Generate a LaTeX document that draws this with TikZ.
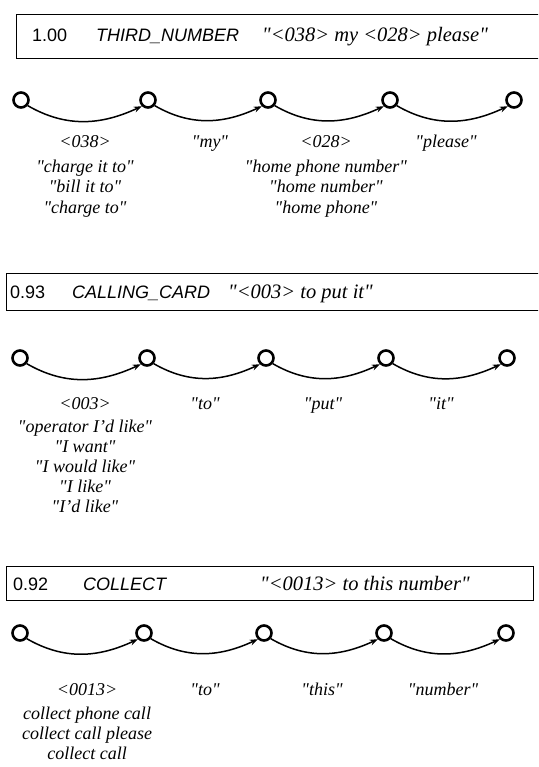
\documentclass[tikz,border=0pt]{standalone}
\usepackage{fontspec}
\setmainfont{Liberation Serif}
\setsansfont{Liberation Sans}
\usetikzlibrary{arrows.meta}
\newcommand{\q}{\textquotedbl}
\tikzset{
  st/.style={circle,draw,line width=2.6pt,minimum size=15pt,inner sep=0pt},
  arc/.style={line width=1.5pt,-{Stealth[length=8pt,width=6pt]}},
  boxline/.style={line width=0.9pt},
  hdr/.style={font=\sffamily\fontsize{18}{20}\selectfont,anchor=base west,inner sep=0pt},
  hdri/.style={font=\sffamily\itshape\fontsize{18}{20}\selectfont,anchor=base west,inner sep=0pt},
  hdrq/.style={font=\itshape\fontsize{20.5}{22}\selectfont,anchor=base west,inner sep=0pt},
  lab/.style={font=\itshape\fontsize{18}{20}\selectfont,anchor=base,inner sep=0pt},
}
\begin{document}
\begin{tikzpicture}[x=1pt,y=-1pt]
\useasboundingbox (0,0) rectangle (538,767);
\clip (0,0) rectangle (538,767);
% ---------- Row 1 ----------
\draw[boxline] (560,14) -- (16,14) -- (16,58) -- (560,58);
\node[hdr]  (h1a) at (32,42)  {1.00};
\node[hdri] (h1b) at (96,42)  {THIRD\_NUMBER};
\node[hdrq] (h1c) at (262,42) {\q<038> my <028> please\q};
\foreach \i/\x in {1/21,2/148,3/268,4/390,5/514}{
  \node[st] (a\i) at (\x,100) {};
}
\foreach \i/\j in {1/2,2/3,3/4,4/5}{
  \draw[arc] (a\i.-40) to[out=-30,in=-155] (a\j.-135);
}
\node[lab] (l1a) at (85,148) {<038>};
\node[lab] (l1b) at (210,148) {\q my\q};
\node[lab] (l1c) at (326,148) {<028>};
\node[lab] (l1d) at (446,148) {\q please\q};
\node[lab] (l1e) at (85,173) {\q charge it to\q};
\node[lab] (l1f) at (85,193) {\q bill it to\q};
\node[lab] (l1g) at (85,213) {\q charge to\q};
\node[lab] (l1h) at (326,173) {\q home phone number\q};
\node[lab] (l1i) at (326,193) {\q home number\q};
\node[lab] (l1j) at (326,213) {\q home phone\q};
% ---------- Row 2 ----------
\draw[boxline] (560,273) -- (6,273) -- (6,310) -- (560,310);
\node[hdr]  (h2a) at (10,298)  {0.93};
\node[hdri] (h2b) at (72,298)  {CALLING\_CARD};
\node[hdrq] (h2c) at (228,298) {\q<003> to put it\q};
\foreach \i/\x in {1/20,2/147,3/266,4/386,5/507}{
  \node[st] (b\i) at (\x,358) {};
}
\foreach \i/\j in {1/2,2/3,3/4,4/5}{
  \draw[arc] (b\i.-40) to[out=-30,in=-155] (b\j.-135);
}
\node[lab] (l2a) at (85,409) {<003>};
\node[lab] (l2b) at (205,409) {\q to\q};
\node[lab] (l2c) at (323,409) {\q put\q};
\node[lab] (l2d) at (441,409) {\q it\q};
\node[lab] (l2e) at (85,432) {\q operator I'd like\q};
\node[lab] (l2f) at (85,452) {\q I want\q};
\node[lab] (l2g) at (85,472) {\q I would like\q};
\node[lab] (l2h) at (85,492) {\q I like\q};
\node[lab] (l2i) at (85,512) {\q I'd like\q};
% ---------- Row 3 ----------
\draw[boxline] (6,566) rectangle (533,600);
\node[hdr]  (h3a) at (13,590)  {0.92};
\node[hdri] (h3b) at (83,590)  {COLLECT};
\node[hdrq] (h3c) at (260,590) {\q<0013> to this number\q};
\foreach \i/\x in {1/20,2/144,3/264,4/384,5/506}{
  \node[st] (c\i) at (\x,633) {};
}
\foreach \i/\j in {1/2,2/3,3/4,4/5}{
  \draw[arc] (c\i.-40) to[out=-30,in=-155] (c\j.-135);
}
\node[lab] (l3a) at (87,695) {<0013>};
\node[lab] (l3b) at (205,695) {\q to\q};
\node[lab] (l3c) at (322,695) {\q this\q};
\node[lab] (l3d) at (443,695) {\q number\q};
\node[lab] (l3e) at (87,719) {collect phone call};
\node[lab] (l3f) at (87,739) {collect call please};
\node[lab] (l3g) at (87,759) {collect call};
\end{tikzpicture}
\end{document}
